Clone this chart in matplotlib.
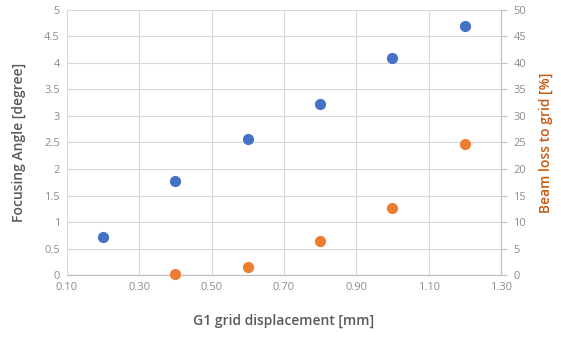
import matplotlib.pyplot as plt

plt.rcParams['font.family'] = ['Open Sans', 'DejaVu Sans']

# data
displacement_angle = [0.2, 0.4, 0.6, 0.8, 1.0, 1.2]
focusing_angle = [0.71, 1.77, 2.56, 3.22, 4.09, 4.70]
displacement_loss = [0.4, 0.6, 0.8, 1.0, 1.2]
beam_loss = [0.2, 1.6, 6.4, 12.7, 24.7]

x_ticks = [0.10, 0.30, 0.50, 0.70, 0.90, 1.10, 1.30]
x_labels = ['0.10', '0.30', '0.50', '0.70', '0.90', '1.10', '1.30']
left_ticks = [0, 0.5, 1, 1.5, 2, 2.5, 3, 3.5, 4, 4.5, 5]
right_ticks = [0, 5, 10, 15, 20, 25, 30, 35, 40, 45, 50]

blue = '#4472C4'
orange = '#ED7D31'
tick_col = '#8C8C8C'
grid_col = '#D9D9D9'

fig = plt.figure(figsize=(5.61, 3.40), dpi=100)
ax = fig.add_axes([0.1194, 0.191, 0.7736, 0.780])
ax2 = ax.twinx()

ax.scatter(displacement_angle, focusing_angle, s=65, color=blue, zorder=3, linewidths=0)
ax2.scatter(displacement_loss, beam_loss, s=65, color=orange, zorder=3, linewidths=0, clip_on=False)

ax.set_xlim(0.10, 1.30)
ax.set_ylim(0, 5)
ax2.set_ylim(0, 50)
ax.set_xticks(x_ticks)
ax.set_xticklabels(x_labels)
ax.set_yticks(left_ticks)
ax.set_yticklabels(['0', '0.5', '1', '1.5', '2', '2.5', '3', '3.5', '4', '4.5', '5'])
ax2.set_yticks(right_ticks)

ax.grid(True, color=grid_col, linewidth=0.8)
ax.set_axisbelow(True)

for a in (ax, ax2):
    for side in ('top', 'left', 'right'):
        a.spines[side].set_visible(False)
    a.spines['bottom'].set_color('#BFBFBF')
    a.tick_params(colors=tick_col, labelsize=8, length=0, pad=5)
ax2.spines['right'].set_visible(True)
ax2.spines['right'].set_color('#BFBFBF')
ax2.tick_params(axis='y', length=4, color='#BFBFBF', labelcolor=tick_col)

ax.set_xlabel('G1 grid displacement [mm]', fontsize=10, fontweight='semibold',
              color='#595959', labelpad=15)
ax.set_ylabel('Focusing Angle [degree]', fontsize=10, fontweight='semibold',
              color='#595959', labelpad=13)
ax2.set_ylabel('Beam loss to grid [%]', fontsize=10, fontweight='semibold',
               color='#C55A11', labelpad=9)

fig.savefig('out.png', dpi=100)
